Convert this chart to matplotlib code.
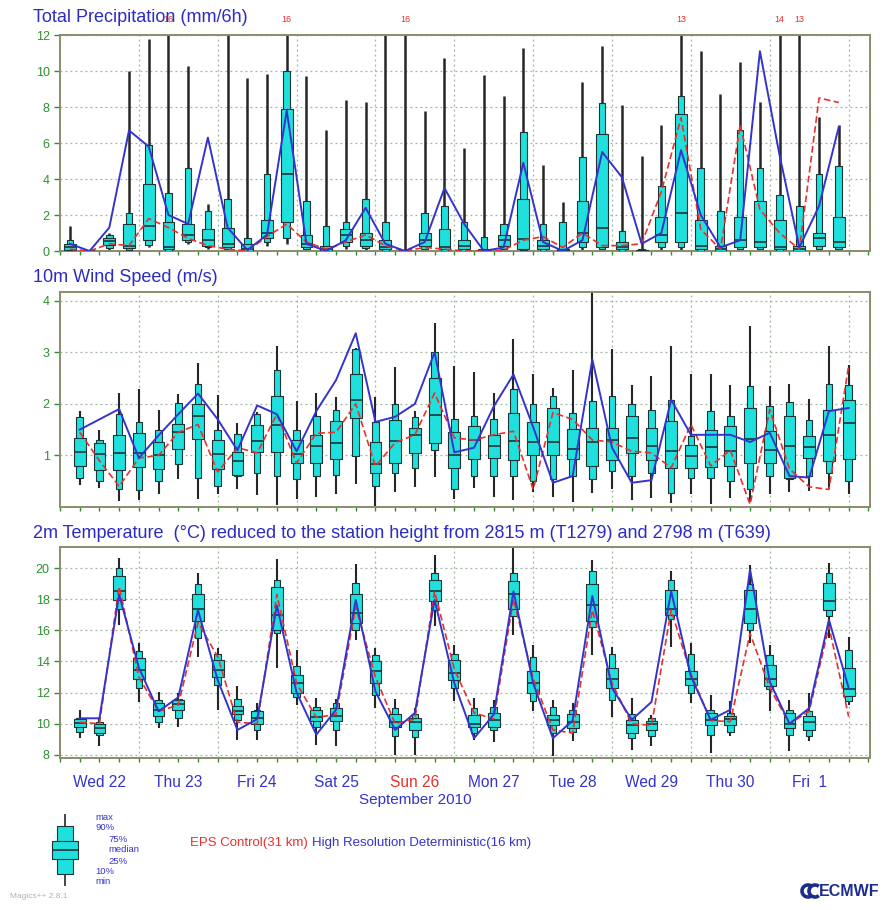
import numpy as np
import matplotlib.pyplot as plt
from matplotlib.patches import Arc

plt.rcParams['font.family'] = ['Liberation Sans', 'DejaVu Sans']

# time axis: hours after Wed 22 Sep 2010 00 UTC, 6-hourly steps
n_steps = 40
day_labels = ["Wed 22", "Thu 23", "Fri 24", "Sat 25", "Sun 26",
              "Mon 27", "Tue 28", "Wed 29", "Thu 30", "Fri  1"]
weekend_label = "Sun 26"

# ---- Total precipitation (mm/6h), plotted mid-interval ----
tp_min = [0, 0, 0, 0, 0.2, 0, 0.4, 0.1, 0, 0, 0.3, 0.4, 0, 0, 0.1, 0.05, 0, 0, 0, 0,
          0, 0, 0, 0, 0, 0, 0, 0, 0, 0, 0, 0, 0, 0, 0, 0, 0, 0, 0, 0]
tp_p10 = [0, 0, 0.15, 0.05, 0.35, 0, 0.5, 0.2, 0.1, 0, 0.5, 0.7, 0.1, 0, 0.3, 0.15, 0, 0, 0.1, 0,
          0, 0, 0.1, 0.05, 0, 0, 0.2, 0.1, 0, 0, 0.2, 0.2, 0, 0, 0.1, 0.1, 0, 0, 0.1, 0.1]
tp_p25 = [0.05, 0, 0.35, 0.15, 0.6, 0.1, 0.6, 0.3, 0.2, 0, 0.7, 1.6, 0.2, 0, 0.5, 0.3, 0.1, 0, 0.3, 0.1,
          0.1, 0, 0.3, 0.1, 0.1, 0, 0.5, 0.2, 0.1, 0, 0.5, 0.5, 0.1, 0, 0.2, 0.2, 0.1, 0, 0.3, 0.2]
tp_med = [0.2, 0, 0.55, 0.3, 1.4, 0.2, 0.9, 0.6, 0.4, 0.1, 1.0, 4.3, 0.4, 0.1, 0.9, 0.6, 0.2, 0, 0.6, 0.2,
          0.3, 0, 0.6, 0.65, 0.3, 0, 1.0, 1.3, 0.2, 0, 0.9, 2.1, 0.3, 0.1, 0.6, 0.5, 0.2, 0.1, 0.7, 0.5]
tp_p75 = [0.4, 0, 0.7, 1.5, 3.7, 1.6, 1.5, 1.2, 1.3, 0.4, 1.7, 7.9, 0.9, 0.3, 1.2, 1.0, 0.6, 0, 1.0, 1.2,
          0.6, 0.1, 0.9, 2.9, 0.6, 0.1, 2.8, 6.5, 0.5, 0.05, 1.9, 7.6, 1.7, 0.3, 1.9, 2.8, 1.7, 0.3, 1.0, 1.9]
tp_p90 = [0.6, 0, 0.9, 2.1, 5.9, 3.2, 4.6, 2.2, 2.9, 0.7, 4.3, 10.0, 2.8, 1.4, 1.6, 2.9, 1.6, 0.05, 2.1, 2.5,
          1.6, 0.8, 1.5, 6.6, 1.5, 1.6, 5.2, 8.2, 1.1, 0.1, 3.6, 8.6, 4.6, 2.2, 6.7, 4.6, 3.1, 2.5, 4.3, 4.7]
tp_max = [1.4, 0, 1.0, 10.0, 11.8, 16, 10.3, 2.6, 12.0, 9.6, 9.85, 16, 9.7, 6.7, 8.4, 8.3, 12.0, 16, 7.8, 10.7,
          5.7, 9.8, 8.6, 11.3, 4.8, 2.7, 9.4, 11.4, 8.1, 5.3, 7.0, 13, 11.1, 8.75, 10.5, 8.3, 14, 13, 7.45, 7.0]
tp_hres = [0.4, 0, 1.3, 6.7, 5.8, 2.0, 1.5, 6.3, 1.3, 0.05, 0.9, 7.8, 0.4, 0, 0.6, 2.4, 0.4, 0, 0.5, 3.5,
           1.5, 0, 0.2, 4.9, 0.5, 0, 0.6, 5.5, 4.1, 0.4, 1.0, 5.6, 2.0, 0.2, 0.6, 11.1, 5.3, 0.2, 2.5, 6.9]
tp_ctrl = [0.1, 0, 0.4, 0.3, 1.8, 1.3, 0.7, 0.3, 0.1, 0, 0.8, 1.5, 0.5, 0.1, 0.5, 0.9, 0.3, 0, 0.2, 0.1,
           0, 0, 0.05, 0.6, 0.8, 0.2, 1.0, 0.3, 0.3, 0.4, 3.3, 7.4, 1.2, 0.1, 7.0, 2.3, 1.0, 0.1, 8.5, 8.25]

# ---- 10m wind speed (m/s) ----
ws_min = [0.42, 0.37, 0.12, 0.13, 0.25, 0.55, 0.16, 0.25, 0.34, 0.23, 0.03, 0.15, 0.2, 0.25, 0.45, 0.0, 0.3, 0.39, 0.59, 0.16,
          0.37, 0.2, 0.14, 0.3, 0.2, 0.1, 0.28, 0.34, 0.14, 0.18, 0.08, 0.25, 0.05, 0.18, 0.1, 0.25, 0.29, 0.31, 0.35, 0.25]
ws_p10 = [0.57, 0.5, 0.35, 0.33, 0.5, 0.83, 0.57, 0.41, 0.6, 0.66, 0.6, 0.55, 0.61, 0.62, 0.99, 0.4, 0.65, 0.76, 1.1, 0.34,
          0.6, 0.6, 0.6, 0.5, 0.55, 0.6, 0.54, 0.7, 0.6, 0.66, 0.28, 0.57, 0.57, 0.5, 0.34, 0.6, 0.55, 0.6, 0.65, 0.5]
ws_p25 = [0.8, 0.72, 0.72, 0.78, 0.74, 1.13, 1.31, 0.73, 0.63, 1.06, 1.06, 0.85, 0.85, 0.94, 1.73, 0.65, 0.86, 1.05, 1.25, 0.75,
          0.94, 0.95, 0.92, 1.0, 1.0, 0.94, 0.79, 0.92, 1.05, 0.92, 0.75, 0.75, 0.78, 0.8, 0.85, 0.85, 0.57, 0.95, 0.89, 0.94]
ws_med = [1.06, 1.03, 1.05, 1.05, 1.0, 1.45, 1.76, 1.03, 0.9, 1.28, 1.6, 1.03, 1.19, 1.25, 2.08, 0.83, 1.28, 1.39, 1.78, 1.0,
          1.3, 1.18, 1.28, 1.26, 1.26, 1.13, 1.26, 1.3, 1.33, 1.18, 1.08, 0.99, 1.17, 1.08, 1.31, 1.1, 1.19, 1.17, 1.4, 1.62]
ws_p75 = [1.34, 1.25, 1.4, 1.43, 1.26, 1.61, 1.99, 1.29, 1.06, 1.59, 2.15, 1.3, 1.4, 1.66, 2.57, 1.26, 1.68, 1.54, 2.5, 1.45,
          1.57, 1.4, 1.83, 1.65, 1.92, 1.52, 1.54, 1.54, 1.76, 1.54, 1.66, 1.21, 1.5, 1.58, 1.92, 1.47, 1.77, 1.37, 1.89, 2.08]
ws_p90 = [1.74, 1.3, 1.8, 1.65, 1.5, 2.02, 2.39, 1.5, 1.41, 1.8, 2.65, 1.5, 1.76, 1.89, 3.07, 1.65, 1.99, 1.75, 3.0, 1.7,
          1.76, 1.71, 2.28, 1.99, 2.15, 1.83, 2.05, 2.15, 2.0, 1.89, 2.08, 1.37, 1.86, 1.77, 2.34, 1.95, 2.03, 1.68, 2.39, 2.37]
ws_max = [1.86, 1.5, 2.22, 2.28, 1.88, 2.2, 2.79, 2.18, 1.63, 1.84, 3.13, 2.05, 2.22, 2.13, 3.08, 2.13, 2.71, 1.86, 3.57, 2.74,
          2.61, 2.21, 3.25, 2.57, 2.31, 2.66, 4.25, 3.06, 2.37, 2.54, 3.12, 2.57, 2.57, 2.37, 3.52, 2.35, 2.39, 2.1, 3.13, 2.76]
ws_hres = [1.5, 1.7, 1.9, 0.95, 1.39, 1.8, 2.2, 1.7, 1.1, 1.97, 1.8, 1.08, 1.86, 2.46, 3.37, 1.65, 1.75, 2.0, 3.0, 1.06,
           1.15, 1.95, 2.57, 1.55, 0.47, 0.6, 2.86, 1.15, 0.47, 0.52, 2.08, 1.4, 1.4, 1.4, 1.26, 1.44, 0.6, 0.57, 1.86, 1.92]
ws_ctrl = [1.45, 0.9, 0.4, 0.95, 1.0, 1.45, 1.6, 0.68, 1.15, 1.05, 1.8, 0.85, 1.43, 1.45, 2.0, 0.79, 1.25, 1.4, 2.21, 1.34,
           1.3, 1.4, 1.47, 0.34, 1.83, 1.7, 1.3, 1.26, 1.08, 1.05, 0.76, 1.6, 0.8, 1.1, 0.05, 1.89, 0.74, 0.39, 0.34, 2.74]

# ---- 2m temperature (deg C) ----
t2_min = [9.07, 8.58, 16.36, 11.4, 9.7, 9.8, 14.3, 10.9, 8.93, 8.97, 13.57, 11.2, 8.64, 8.54, 15.4, 11.0, 8.0, 8.0, 16.25, 11.43,
          8.97, 8.8, 15.7, 10.8, 7.9, 8.86, 14.43, 10.46, 8.3, 8.54, 14.96, 11.3, 8.1, 9.2, 15.2, 10.8, 8.28, 8.9, 15.5, 11.2]
t2_p10 = [9.5, 9.3, 17.4, 12.3, 10.1, 10.36, 15.5, 12.5, 10.25, 9.6, 15.8, 11.7, 9.8, 9.6, 16.0, 11.86, 9.2, 9.18, 17.3, 12.3,
          9.4, 9.6, 16.9, 11.43, 9.4, 9.5, 16.2, 11.5, 9.1, 9.2, 16.7, 11.96, 9.3, 9.5, 16.0, 12.2, 9.3, 9.2, 16.9, 11.43]
t2_p25 = [9.8, 9.4, 17.96, 12.9, 10.5, 10.9, 16.6, 13.0, 10.6, 10.0, 16.0, 11.96, 10.2, 10.2, 16.5, 12.6, 9.8, 9.6, 17.86, 12.8,
          9.8, 9.8, 17.4, 11.96, 9.9, 9.7, 16.6, 12.3, 9.4, 9.6, 17.0, 12.5, 9.9, 9.9, 16.5, 12.4, 9.7, 9.6, 17.3, 11.8]
t2_med = [10.05, 9.75, 18.5, 13.46, 10.9, 11.26, 17.4, 13.46, 10.8, 10.36, 17.0, 12.6, 10.46, 10.5, 17.1, 13.36, 10.14, 10.14, 18.5, 13.25,
          10.0, 10.25, 18.3, 12.6, 10.25, 10.14, 17.6, 12.9, 9.93, 10.0, 17.4, 12.9, 10.25, 10.3, 17.4, 12.9, 10.0, 10.14, 17.86, 12.2]
t2_p75 = [10.3, 10.0, 19.46, 14.2, 11.3, 11.5, 18.3, 14.1, 11.15, 10.8, 18.8, 13.1, 10.9, 11.04, 18.35, 14.0, 10.6, 10.4, 19.25, 14.1,
          10.57, 10.68, 19.14, 13.36, 10.57, 10.6, 19.0, 13.6, 10.25, 10.2, 18.6, 13.4, 10.68, 10.5, 18.6, 13.8, 10.7, 10.5, 19.04, 13.57]
t2_p90 = [10.4, 10.1, 20.0, 14.7, 11.5, 11.6, 19.0, 14.5, 11.6, 10.9, 19.2, 13.7, 11.1, 11.3, 19.03, 14.4, 11.0, 10.6, 19.68, 14.5,
          11.0, 11.1, 19.68, 14.3, 11.1, 10.9, 19.78, 14.5, 10.6, 10.4, 19.25, 14.5, 10.9, 10.7, 19.0, 14.43, 10.9, 10.8, 19.68, 14.75]
t2_max = [10.9, 10.3, 20.64, 15.18, 12.07, 12.0, 19.68, 14.85, 12.4, 11.36, 20.6, 14.75, 11.64, 11.6, 20.26, 14.85, 11.58, 11.0, 20.86, 15.07,
          11.64, 11.54, 21.4, 15.07, 11.54, 11.3, 20.53, 14.96, 11.64, 10.57, 19.78, 15.18, 11.86, 11.43, 20.2, 15.07, 11.5, 11.96, 20.3, 15.6]
t2_hres = [10.35, 10.35, 18.3, 13.6, 10.8, 11.7, 17.3, 12.8, 9.6, 10.3, 17.6, 12.0, 9.3, 10.9, 17.96, 12.07, 9.6, 10.7, 17.96, 12.6,
           9.07, 10.6, 18.5, 12.6, 9.07, 10.2, 18.2, 12.3, 10.25, 11.4, 18.5, 13.04, 10.25, 10.9, 19.9, 12.7, 10.0, 11.0, 16.68, 12.3]
t2_ctrl = [10.1, 10.0, 18.8, 13.0, 10.8, 11.2, 16.5, 14.3, 10.1, 10.0, 18.3, 12.6, 10.4, 10.6, 17.5, 13.0, 10.0, 10.3, 18.5, 13.5,
           10.7, 10.3, 18.0, 12.9, 9.6, 9.4, 17.3, 12.6, 10.0, 9.9, 17.3, 13.2, 10.2, 10.14, 15.8, 12.3, 10.0, 10.8, 16.25, 10.46]

CYAN = "#1fe0dc"
EDGE = "#1c3434"
WHISK = "#262626"
BLUE = "#3434cc"
RED = "#e8302c"
GREEN = "#2f8f2f"
FRAME = "#8c8c6c"
GRID = "#9fb59f"
TITLE = "#2c2cc4"
LOGO = "#1c2c8c"

t_precip = 3 + 6 * np.arange(n_steps)
t_inst = 6 + 6 * np.arange(n_steps)
XMAX = 246.5

W, H = 890, 910
fig = plt.figure(figsize=(W / 100, H / 100), dpi=100)


def px_axes(x0, y0, x1, y1):
    return fig.add_axes([x0 / W, 1 - y1 / H, (x1 - x0) / W, (y1 - y0) / H])


def draw_boxes(ax, x, lo, p10, p25, med, p75, p90, hi, wn=2.0, ww=3.6, lw=1.5):
    ax.vlines(x, lo, hi, color=WHISK, lw=lw, zorder=2)
    ax.bar(x, np.subtract(p90, p10), bottom=p10, width=wn, color=CYAN,
           edgecolor=EDGE, linewidth=0.8, zorder=3)
    ax.bar(x, np.subtract(p75, p25), bottom=p25, width=ww, color=CYAN,
           edgecolor=EDGE, linewidth=0.8, zorder=4)
    x = np.asarray(x, dtype=float)
    ax.hlines(med, x - ww / 2, x + ww / 2, color=EDGE, lw=1.2, zorder=5)


def style(ax, ylim, yticks):
    ax.set_xlim(0, XMAX)
    ax.set_ylim(*ylim)
    ax.set_yticks(yticks)
    ax.set_xticks(np.arange(24, XMAX, 24))
    ax.set_xticks(np.arange(0, XMAX, 6), minor=True)
    ax.set_xticklabels([])
    ax.tick_params(axis="y", colors=GREEN, labelsize=9, length=4, width=1)
    ax.tick_params(axis="x", which="both", colors=GREEN, length=3, width=1)
    for s in ax.spines.values():
        s.set_color(FRAME)
        s.set_linewidth(1.4)
    ax.grid(True, which="major", color=GRID, ls=(0, (1.5, 2.5)), lw=0.9, zorder=0)
    ax.set_axisbelow(True)


def add_lines(ax, x, hres, ctrl):
    ax.plot(x, ctrl, color=RED, lw=1.2, ls=(0, (4, 2)), zorder=6)
    ax.plot(x, hres, color=BLUE, lw=1.4, zorder=7)


# precipitation
ax1 = px_axes(60, 35, 870, 251)
draw_boxes(ax1, t_precip, tp_min, tp_p10, tp_p25, tp_med, tp_p75, tp_p90, tp_max, lw=1.8)
add_lines(ax1, t_precip, tp_hres, tp_ctrl)
style(ax1, (0, 12), np.arange(0, 13, 2))
for x, v in zip(t_precip, tp_max):
    if v > 12:
        ax1.text(x, 1.07, f"{v:.0f}", transform=ax1.get_xaxis_transform(),
                 color=RED, fontsize=6.5, ha="center", va="center", zorder=1)

# wind
ax2 = px_axes(60, 292, 870, 507)
draw_boxes(ax2, t_inst, ws_min, ws_p10, ws_p25, ws_med, ws_p75, ws_p90, ws_max)
add_lines(ax2, t_inst, ws_hres, ws_ctrl)
style(ax2, (0, 4.17), [1, 2, 3, 4])

# temperature
ax3 = px_axes(60, 547, 870, 758)
draw_boxes(ax3, t_inst, t2_min, t2_p10, t2_p25, t2_med, t2_p75, t2_p90, t2_max)
add_lines(ax3, t_inst, t2_hres, t2_ctrl)
style(ax3, (7.8, 21.35), np.arange(8, 21, 2))
for k, lab in enumerate(day_labels):
    ax3.text(12 + 24 * k, -0.118, lab, transform=ax3.get_xaxis_transform(),
             color=RED if lab == weekend_label else BLUE, fontsize=11.2,
             ha="center", va="center")
ax3.text(108, -0.2, "September 2010", transform=ax3.get_xaxis_transform(),
         color=BLUE, fontsize=11, ha="center", va="center")

# panel titles
fig.text(33 / W, 1 - 17 / H, "Total Precipitation (mm/6h)", color=TITLE,
         fontsize=13, va="center", zorder=10)
fig.text(33 / W, 1 - 278 / H, "10m Wind Speed (m/s)", color=TITLE,
         fontsize=13, va="center")
fig.text(33 / W, 1 - 533 / H,
         "2m Temperature  (°C) reduced to the station height from 2815 m (T1279) and 2798 m (T639)",
         color=TITLE, fontsize=13, va="center")

# box legend
axl = px_axes(45, 812, 85, 888)
draw_boxes(axl, [0], [0], [1.2], [2.6], [3.5], [4.4], [5.8], [7.0], wn=0.8, ww=1.3, lw=1.2)
axl.set_xlim(-1, 1)
axl.set_ylim(-0.2, 7.2)
axl.axis("off")
leg_labels = [("max", 95, 817), ("90%", 95, 828), ("75%", 108, 839), ("median", 108, 850),
              ("25%", 108, 861), ("10%", 95, 872), ("min", 95, 882)]
for lab, x, y in leg_labels:
    fig.text(x / W, 1 - y / H, lab, color=BLUE, fontsize=6.8, va="center")

fig.text(190 / W, 1 - 843 / H, "EPS Control(31 km)", color=RED, fontsize=9.5, va="center")
fig.text(312 / W, 1 - 843 / H, "High Resolution Deterministic(16 km)", color=BLUE,
         fontsize=9.5, va="center")
fig.text(10 / W, 1 - 897 / H, "Magics++ 2.8.1", color="#b0b0b0", fontsize=6, va="center")

# ECMWF logo: symbol + name
axg = px_axes(800, 882, 822, 900)
axg.set_xlim(0, 22)
axg.set_ylim(0, 18)
axg.set_aspect("equal")
axg.axis("off")
for cx in (8, 15):
    axg.add_patch(Arc((cx, 9), 12, 12, theta1=50, theta2=310, color=LOGO, lw=2.6))
fig.text(880 / W, 1 - 891 / H, "ECMWF", color=LOGO, fontsize=11.5,
         fontweight="bold", ha="right", va="center")

fig.savefig("out.png", dpi=100)
